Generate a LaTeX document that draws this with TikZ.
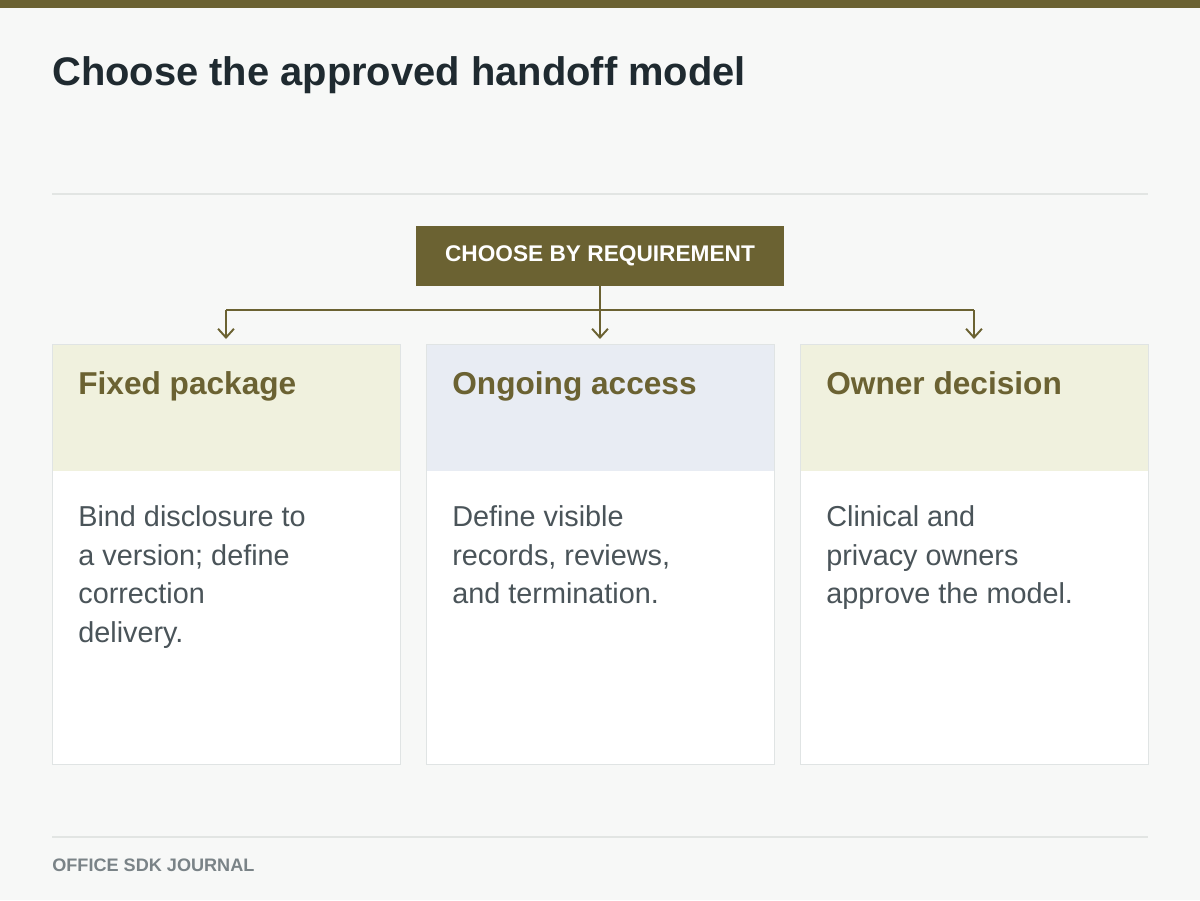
\documentclass[tikz,border=0pt]{standalone}
\usepackage{fontspec}
\setmainfont{Liberation Sans}
\usetikzlibrary{positioning,arrows.meta}
\definecolor{olive}{HTML}{6B6232}
\definecolor{paper}{HTML}{F7F8F7}
\definecolor{rulegray}{HTML}{E2E5E3}
\definecolor{ink}{HTML}{1F2A30}
\definecolor{bodygray}{HTML}{4A5459}
\definecolor{footgray}{HTML}{7A8387}
\definecolor{bandolive}{HTML}{F0F1DE}
\definecolor{bandblue}{HTML}{E8ECF3}
\definecolor{cardline}{HTML}{E0E4E4}
\begin{document}
\begin{tikzpicture}[x=0.02cm,y=-0.02cm,
  card/.style={draw=cardline,fill=white,line width=0.5pt},
  cardtitle/.style={anchor=base west,inner sep=0pt,text=olive,font=\fontsize{18}{21}\selectfont\bfseries},
  cardbody/.style={anchor=north west,inner sep=0pt,text=bodygray,align=left,
                   font=\fontsize{16.4}{22.1}\selectfont},
  link/.style={draw=olive,line width=1.1pt},
  arr/.style={link,-{Straight Barb[length=5pt,width=9pt]}}]
\useasboundingbox (0,0) rectangle (1200,900);
\fill[paper] (0,0) rectangle (1200,900);
\fill[olive] (0,0) rectangle (1200,8);
\node[anchor=base west,inner sep=0pt,text=ink,font=\fontsize{22.7}{27}\selectfont\bfseries]
  (title) at (52,85) {Choose the approved handoff model};
\draw[rulegray,line width=0.8pt] (52,194) -- (1148,194);
\draw[rulegray,line width=0.8pt] (52,837) -- (1148,837);
% header
\node[fill=olive,minimum width=368*0.02cm,minimum height=60*0.02cm,inner sep=0pt,
      text=white,font=\fontsize{12.9}{15}\selectfont\bfseries]
  (req) at (600,256) {CHOOSE BY REQUIREMENT};
\coordinate (split) at (600,310);
\coordinate (jl) at (226,310);
\coordinate (jr) at (974,310);
\coordinate (tl) at (226,339);
\coordinate (tm) at (600,339);
\coordinate (tr) at (974,339);
\draw[link] (req.south) -- (split);
\draw[link] (jl) -- (jr);
\draw[arr] (jl) -- (tl);
\draw[arr] (split) -- (tm);
\draw[arr] (jr) -- (tr);
% cards
\foreach \x/\col/\name/\head/\body in {
  52/bandolive/fixed/Fixed package/{Bind disclosure to\\a version; define\\correction\\delivery.},
  426/bandblue/ongoing/Ongoing access/{Define visible\\records, reviews,\\and termination.},
  800/bandolive/owner/Owner decision/{Clinical and\\privacy owners\\approve the model.}}{
  \draw[card] (\x,344) rectangle ++(348,420);
  \fill[\col] (\x,344) rectangle ++(348,127);
  \draw[card,fill=none] (\x,344) rectangle ++(348,420);
  \node[cardtitle] (\name-head) at (\x+26,394) {\head};
  \node[cardbody] (\name-body) at (\x+26,505) {\body};
}
\node[anchor=base west,inner sep=0pt,text=footgray,font=\fontsize{10.3}{12}\selectfont\bfseries]
  (foot) at (52,871) {OFFICE SDK JOURNAL};
\end{tikzpicture}
\end{document}
